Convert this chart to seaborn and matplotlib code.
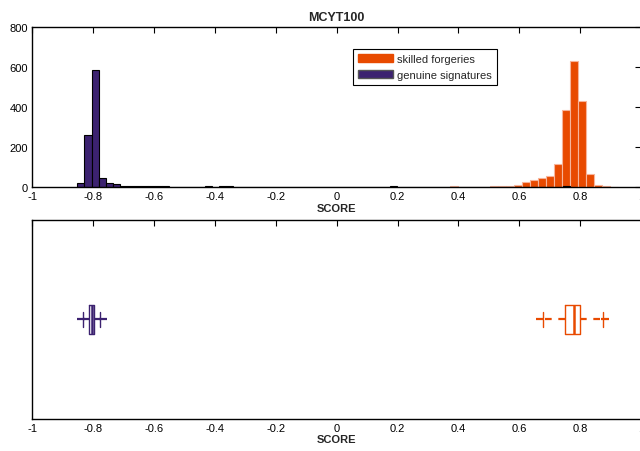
import numpy as np
import pandas as pd
import seaborn as sns
import matplotlib.pyplot as plt
from matplotlib.ticker import FormatStrFormatter
from matplotlib.patches import Patch

# histogram counts
gen_width = 0.0232
gen_start = -0.851
gen_counts = [21, 258, 583, 45, 21, 16, 5, 5, 5, 5, 5, 5, 4, 0, 0, 0, 0, 0, 5, 0, 4, 5]
gen_extra_centers = [0.188, 0.755]
gen_extra_counts = [5, 4]

forg_width = 0.0262
forg_start = 0.373
forg_counts = [5, 0, 0, 0, 0, 5, 5, 5, 12, 25, 33, 46, 53, 116, 383, 630, 428, 65, 12, 6, 2]

# boxplot scores (summaries)
gen_scores = [-0.838, -0.832, -0.812, -0.808, -0.804, -0.800, -0.795, -0.777, -0.766]
forg_scores = [0.669, 0.676, 0.750, 0.765, 0.779, 0.790, 0.800, 0.874, 0.880]

x_ticks = [-1, -0.8, -0.6, -0.4, -0.2, 0, 0.2, 0.4, 0.6, 0.8, 1]

orange = '#E84A00'
purple = '#3C2270'

sns.set_style('white')
plt.rcParams['font.family'] = ['Liberation Sans', 'DejaVu Sans']
plt.rcParams['axes.unicode_minus'] = False

fig = plt.figure(figsize=(6.4, 4.52), dpi=100)
ax1 = fig.add_axes([0.05, 0.584, 0.952, 0.354])
ax2 = fig.add_axes([0.05, 0.071, 0.952, 0.440])

# top: histograms
f_edges = forg_start + forg_width * np.arange(len(forg_counts) + 1)
forg = pd.DataFrame({'score': f_edges[:-1] + forg_width / 2, 'n': forg_counts})
sns.histplot(data=forg, x='score', weights='n', bins=list(f_edges), color=orange,
             edgecolor='#F7B49A', linewidth=0.8, alpha=1, ax=ax1)

g_edges = gen_start + gen_width * np.arange(len(gen_counts) + 1)
gen = pd.DataFrame({'score': list(g_edges[:-1] + gen_width / 2) + gen_extra_centers,
                    'n': gen_counts + gen_extra_counts})
g_all_edges = np.concatenate([g_edges, [c + d for c in gen_extra_centers
                                        for d in (-gen_width / 2, gen_width / 2)]])
g_all_edges = list(np.unique(np.round(g_all_edges, 5)))
sns.histplot(data=gen, x='score', weights='n', bins=g_all_edges, color=purple,
             edgecolor='black', linewidth=0.8, alpha=1, ax=ax1)

ax1.set_xlim(-1, 1)
ax1.set_ylim(0, 800)
ax1.set_yticks([0, 200, 400, 600, 800])
ax1.set_title('MCYT100', fontsize=9, fontweight='bold', pad=5)
ax1.set_ylabel('')
ax1.legend(handles=[Patch(facecolor=orange, edgecolor=orange, label='skilled forgeries'),
                    Patch(facecolor=purple, edgecolor='#555555', label='genuine signatures')],
           loc='upper left', bbox_to_anchor=(0.527, 0.8625), fancybox=False,
           edgecolor='black', framealpha=1, fontsize=8, handlelength=3.15,
           handleheight=0.75, borderpad=0.45, labelspacing=0.5, handletextpad=0.36,
           borderaxespad=0)
ax1.get_legend().get_frame().set_linewidth(0.8)

# bottom: boxplots
for scores, col in [(gen_scores, purple), (forg_scores, orange)]:
    sns.boxplot(x=scores, orient='h', width=0.146, fill=False, color=col,
                linecolor=col, linewidth=1.0, whis=1.5, ax=ax2,
                whiskerprops={'linestyle': (0, (3, 3)), 'linewidth': 1.6},
                medianprops={'linewidth': 1.8},
                capprops={'linewidth': 1.0},
                flierprops={'marker': '_', 'markersize': 6, 'markeredgecolor': col,
                            'markeredgewidth': 1.6})
ax2.set_ylim(0.5, -0.5)
ax2.set_xlim(-1, 1)
ax2.set_yticks([])

for ax in (ax1, ax2):
    ax.set_xticks(x_ticks)
    ax.xaxis.set_major_formatter(FormatStrFormatter('%g'))
    ax.set_xlabel('SCORE', fontsize=8, fontweight='bold', labelpad=1)
    ax.tick_params(direction='in', length=4, width=0.8, labelsize=8,
                   top=True, right=True, pad=3, colors='black')
    for s in ax.spines.values():
        s.set_linewidth(1.0)
        s.set_color('black')

fig.savefig('out.png', dpi=100)
